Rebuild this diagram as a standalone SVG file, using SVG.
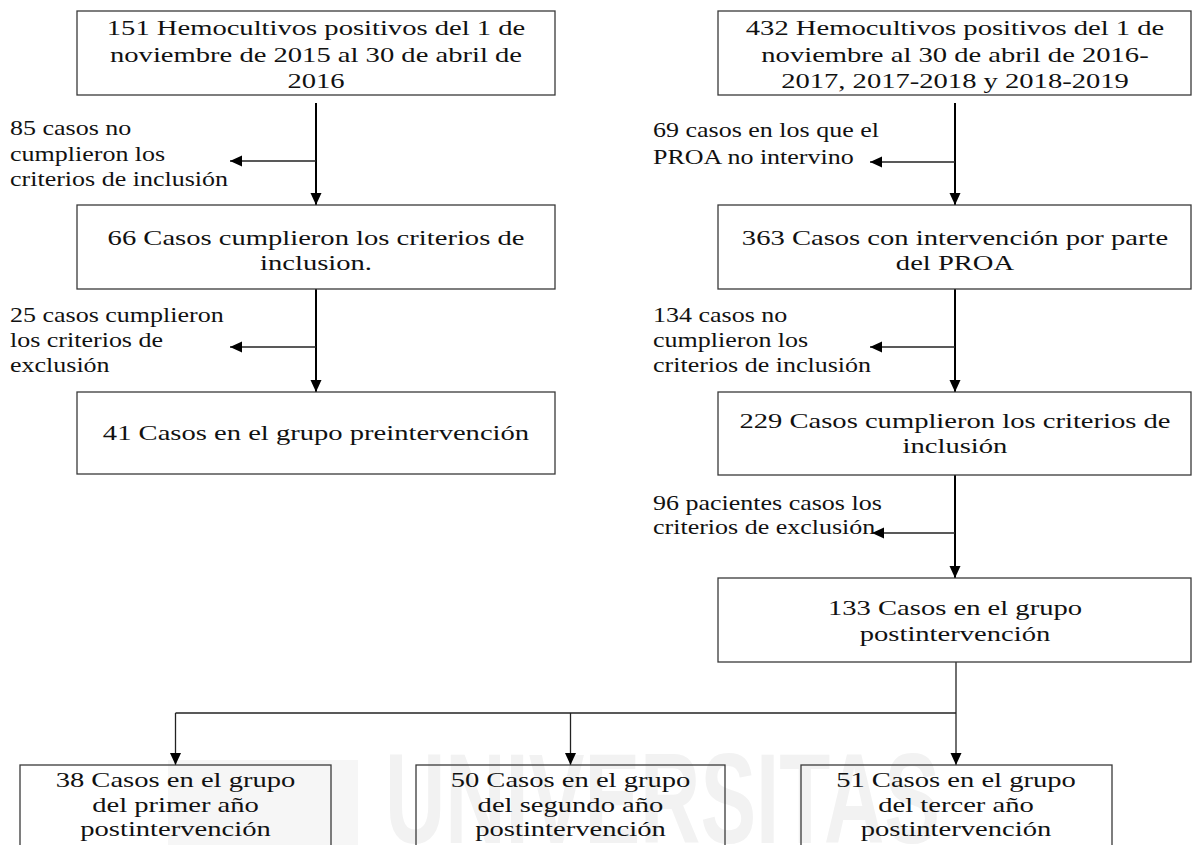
<svg xmlns="http://www.w3.org/2000/svg" width="1193" height="845" viewBox="0 0 1193 845">
<style>
.box{fill:none;stroke:#3a3a3a;stroke-width:1.3}
.bt{font-family:"Liberation Serif","Times New Roman",serif;font-size:22px;fill:#111;text-anchor:middle}
.lt{font-family:"Liberation Serif","Times New Roman",serif;font-size:20px;fill:#111;text-anchor:start}
.main{stroke:#000;stroke-width:2;fill:none}
.br{stroke:#222;stroke-width:1.5;fill:none}
.thin{stroke:#222;stroke-width:1.3;fill:none}
.wm{font-family:"Liberation Sans",Arial,sans-serif;font-weight:bold;font-size:128px;fill:#f2f2f2}
</style>
<defs>
<marker id="ah" markerUnits="userSpaceOnUse" markerWidth="14" markerHeight="12" refX="12" refY="5.5" orient="auto">
<path d="M0,0 L12,5.5 L0,11 Z" fill="#000"/>
</marker>
</defs>
<rect width="1193" height="845" fill="#fff"/>
<g id="watermark">
<path d="M168,760 L358,760 L358,845 L168,845 Z" fill="#f6f6f6"/>
<text class="wm" x="385" y="843" textLength="555" lengthAdjust="spacingAndGlyphs">UNIVERSITAS</text>
</g>
<g id="connectors">
<line class="main" x1="316" y1="103" x2="316" y2="205" marker-end="url(#ah)"/>
<line class="br" x1="316" y1="161" x2="230" y2="161" marker-end="url(#ah)"/>
<line class="main" x1="316" y1="289" x2="316" y2="392" marker-end="url(#ah)"/>
<line class="br" x1="316" y1="347" x2="230" y2="347" marker-end="url(#ah)"/>
<line class="main" x1="955" y1="103" x2="955" y2="205" marker-end="url(#ah)"/>
<line class="br" x1="955" y1="162" x2="870" y2="162" marker-end="url(#ah)"/>
<line class="main" x1="955" y1="289" x2="955" y2="392" marker-end="url(#ah)"/>
<line class="br" x1="955" y1="347" x2="870" y2="347" marker-end="url(#ah)"/>
<line class="main" x1="955" y1="475" x2="955" y2="578" marker-end="url(#ah)"/>
<line class="br" x1="955" y1="533" x2="872" y2="533" marker-end="url(#ah)"/>
<line class="thin" x1="956" y1="662" x2="956" y2="765" marker-end="url(#ah)"/>
<line class="thin" x1="175.5" y1="713" x2="956" y2="713"/>
<line class="thin" x1="175.5" y1="713" x2="175.5" y2="765" marker-end="url(#ah)"/>
<line class="thin" x1="570.5" y1="713" x2="570.5" y2="765" marker-end="url(#ah)"/>
</g>
<g id="n1">
<rect class="box" x="77" y="11" width="478" height="84"/>
<g transform="translate(316 0) scale(1.3 1)">
<text class="bt" x="0" y="35">151 Hemocultivos positivos del 1 de</text>
<text class="bt" x="0" y="62">noviembre de 2015  al 30 de abril de</text>
<text class="bt" x="0" y="88">2016</text>
</g>
</g>
<g id="l1">
<g transform="translate(10 0) scale(1.3 1)">
<text class="lt" x="0" y="135">85 casos no</text>
<text class="lt" x="0" y="161">cumplieron los</text>
<text class="lt" x="0" y="186">criterios de inclusión</text>
</g>
</g>
<g id="n2">
<rect class="box" x="77" y="205" width="478" height="84"/>
<g transform="translate(316 0) scale(1.3 1)">
<text class="bt" x="0" y="245">66 Casos cumplieron los criterios de</text>
<text class="bt" x="0" y="270">inclusion.</text>
</g>
</g>
<g id="l2">
<g transform="translate(10 0) scale(1.3 1)">
<text class="lt" x="0" y="322">25 casos cumplieron</text>
<text class="lt" x="0" y="347">los criterios de</text>
<text class="lt" x="0" y="372">exclusión</text>
</g>
</g>
<g id="n3">
<rect class="box" x="77" y="392" width="478" height="82"/>
<g transform="translate(316 0) scale(1.3 1)">
<text class="bt" x="0" y="440">41 Casos en el grupo preintervención</text>
</g>
</g>
<g id="r1">
<rect class="box" x="718" y="11" width="473" height="84"/>
<g transform="translate(955 0) scale(1.3 1)">
<text class="bt" x="0" y="35">432 Hemocultivos positivos del 1 de</text>
<text class="bt" x="0" y="62">noviembre al 30 de abril de 2016-</text>
<text class="bt" x="0" y="88">2017, 2017-2018  y 2018-2019</text>
</g>
</g>
<g id="rl1">
<g transform="translate(653 0) scale(1.3 1)">
<text class="lt" x="0" y="137">69 casos en los que el</text>
<text class="lt" x="0" y="164">PROA no intervino</text>
</g>
</g>
<g id="r2">
<rect class="box" x="718" y="205" width="473" height="84"/>
<g transform="translate(955 0) scale(1.3 1)">
<text class="bt" x="0" y="245">363 Casos con intervención por parte</text>
<text class="bt" x="0" y="270">del PROA</text>
</g>
</g>
<g id="rl2">
<g transform="translate(653 0) scale(1.3 1)">
<text class="lt" x="0" y="322">134 casos no</text>
<text class="lt" x="0" y="347">cumplieron los</text>
<text class="lt" x="0" y="372">criterios de inclusión</text>
</g>
</g>
<g id="r3">
<rect class="box" x="718" y="392" width="473" height="83"/>
<g transform="translate(955 0) scale(1.3 1)">
<text class="bt" x="0" y="428">229 Casos cumplieron los criterios de</text>
<text class="bt" x="0" y="453">inclusión</text>
</g>
</g>
<g id="rl3">
<g transform="translate(653 0) scale(1.3 1)">
<text class="lt" x="0" y="510">96 pacientes casos los</text>
<text class="lt" x="0" y="534">criterios de exclusión</text>
</g>
</g>
<g id="r4">
<rect class="box" x="718" y="578" width="473" height="84"/>
<g transform="translate(955 0) scale(1.3 1)">
<text class="bt" x="0" y="615">133 Casos en el grupo</text>
<text class="bt" x="0" y="641">postintervención</text>
</g>
</g>
<g id="b1">
<rect class="box" x="20" y="765" width="311" height="100"/>
<g transform="translate(175.5 0) scale(1.3 1)">
<text class="bt" x="0" y="787">38 Casos en el grupo</text>
<text class="bt" x="0" y="812">del primer año</text>
<text class="bt" x="0" y="836">postintervención</text>
</g>
</g>
<g id="b2">
<rect class="box" x="416" y="765" width="309" height="100"/>
<g transform="translate(570.5 0) scale(1.3 1)">
<text class="bt" x="0" y="787">50 Casos en el grupo</text>
<text class="bt" x="0" y="812">del segundo año</text>
<text class="bt" x="0" y="836">postintervención</text>
</g>
</g>
<g id="b3">
<rect class="box" x="801" y="765" width="311" height="100"/>
<g transform="translate(956 0) scale(1.3 1)">
<text class="bt" x="0" y="787">51 Casos en el grupo</text>
<text class="bt" x="0" y="812">del tercer año</text>
<text class="bt" x="0" y="836">postintervención</text>
</g>
</g>
</svg>
